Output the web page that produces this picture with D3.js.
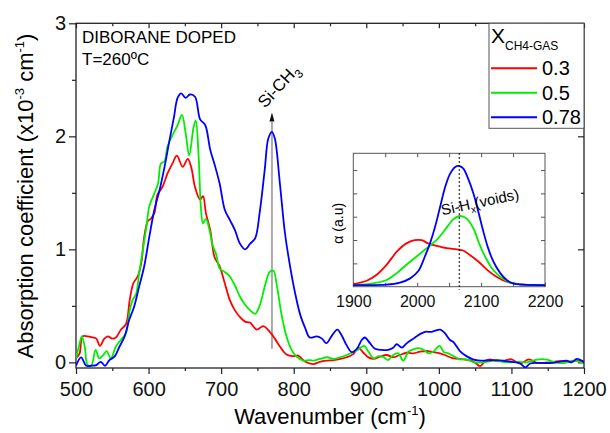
<!DOCTYPE html>
<html>
<head>
<meta charset="utf-8">
<script src="https://cdn.jsdelivr.net/npm/d3@7"></script>
<style>
  body { margin: 0; background: #fff; }
  text { font-family: "Liberation Sans", Arial, sans-serif; }
</style>
</head>
<body>
<div id="chart-area"></div>
<script>
// FTIR spectra, diborane doped, T=260C ; [wavenumber, alpha x10^-3]
var series = ["0.3", "0.5", "0.78"];
var colors = ["#ff0000", "#00ee00", "#0000ff"];

var red = [[500,0.035],[505,0.08],[509,0.23],[516,0.23],[523,0.22],[528,0.21],[533,0.145],[539,0.21],[544,0.23],[550,0.21],[555,0.22],[562,0.29],[569,0.34],[574,0.55],[579,0.70],[585,0.76],[590,0.88],[594,1.11],[599,1.25],[603,1.27],[608,1.32],[612,1.48],[619,1.55],[626,1.67],[633,1.76],[639,1.83],[647,1.73],[654,1.80],[659,1.72],[664,1.55],[671,1.44],[675,1.47],[679,1.32],[685,1.17],[691,0.93],[698,0.85],[705,0.70],[712,0.55],[719,0.46],[726,0.40],[733,0.36],[740,0.35],[749,0.29],[758,0.32],[767,0.27],[774,0.21],[781,0.14],[790,0.07],[799,0.055],[806,0.06],[816,0.005],[827,-0.015],[836,0.005],[845,0.015],[855,0.02],[864,0.03],[873,0.045],[882,0.073],[889,0.13],[896,0.085],[903,0.044],[910,0.03],[919,0.05],[928,0.065],[937,0.045],[946,0.065],[956,0.085],[965,0.08],[974,0.094],[985,0.10],[997,0.085],[1008,0.065],[1020,0.035],[1034,0.027],[1047,0.01],[1057,-0.033],[1064,0.015],[1070,0.027],[1080,0.01],[1089,0.015],[1100,0.027],[1112,-0.01],[1124,0.027],[1135,-0.005],[1144,-0.005],[1153,0.0],[1165,0.01],[1180,0.005],[1190,0.015],[1200,0.005]];

var green = [[500,0.035],[504,0.14],[508,0.23],[512,0.14],[516,-0.024],[521,-0.03],[527,0.11],[532,0.035],[537,0.06],[542,0.10],[548,0.035],[555,0.14],[562,0.20],[569,0.26],[574,0.46],[578,0.55],[583,0.61],[587,0.79],[592,0.99],[597,1.20],[601,1.38],[607,1.48],[613,1.58],[617,1.76],[622,1.78],[626,1.91],[633,2.01],[640,2.10],[646,2.19],[651,2.03],[656,1.83],[662,2.08],[665,2.14],[669,1.82],[672,1.38],[675,1.23],[679,1.27],[684,1.17],[688,1.04],[693,0.96],[698,0.83],[705,0.80],[712,0.76],[719,0.68],[726,0.58],[733,0.51],[740,0.46],[747,0.43],[754,0.52],[760,0.67],[767,0.80],[772,0.81],[777,0.67],[783,0.43],[790,0.23],[797,0.11],[804,0.05],[813,0.015],[822,0.02],[827,0.015],[836,0.03],[846,0.045],[855,0.03],[864,0.045],[873,0.065],[880,0.085],[889,0.115],[897,0.145],[903,0.094],[910,0.035],[917,0.055],[924,0.045],[930,0.02],[937,0.065],[944,0.08],[951,0.015],[958,0.094],[965,0.115],[972,0.125],[979,0.11],[986,0.08],[992,0.094],[1001,0.145],[1007,0.09],[1013,0.08],[1020,0.055],[1029,0.027],[1038,0.027],[1048,0.0],[1061,0.0],[1077,0.015],[1094,0.0],[1110,0.005],[1121,0.0],[1135,0.025],[1149,0.025],[1160,0.0],[1174,-0.005],[1185,0.015],[1199,-0.005]];

var blue = [[500,-0.03],[507,0.044],[514,-0.03],[521,-0.03],[528,-0.025],[534,0.005],[540,-0.03],[546,0.02],[553,0.05],[560,0.14],[567,0.23],[573,0.37],[580,0.49],[587,0.67],[594,0.85],[601,1.11],[608,1.35],[615,1.52],[622,1.73],[629,1.97],[635,2.17],[640,2.34],[645,2.38],[651,2.34],[657,2.37],[664,2.35],[671,2.15],[678,2.10],[685,1.88],[691,1.75],[698,1.58],[705,1.35],[712,1.26],[719,1.17],[726,1.05],[733,1.00],[740,1.05],[747,1.10],[753,1.32],[760,1.70],[765,1.98],[770,2.04],[774,1.98],[781,1.58],[788,1.14],[795,0.85],[802,0.61],[809,0.42],[816,0.30],[822,0.22],[832,0.23],[839,0.21],[845,0.17],[852,0.23],[860,0.29],[866,0.24],[873,0.15],[880,0.09],[887,0.12],[894,0.20],[898,0.22],[905,0.17],[912,0.12],[921,0.11],[930,0.11],[937,0.13],[942,0.16],[949,0.13],[956,0.17],[965,0.21],[974,0.25],[981,0.27],[990,0.27],[1002,0.29],[1008,0.26],[1015,0.20],[1020,0.18],[1029,0.10],[1038,0.055],[1047,0.027],[1057,0.015],[1080,0.02],[1093,0.01],[1112,-0.01],[1119,-0.045],[1126,-0.01],[1139,-0.005],[1158,-0.005],[1176,0.015],[1183,0.0],[1190,0.03],[1197,0.015],[1200,0.0]];

// inset: Si-Hx stretching band, normalised absorption (a.u.)
var insetRed = [[1900,0.008],[1921,0.036],[1936,0.084],[1952,0.17],[1968,0.28],[1983,0.35],[1996,0.377],[2007,0.377],[2017,0.35],[2030,0.33],[2046,0.31],[2062,0.30],[2072,0.29],[2083,0.25],[2096,0.196],[2109,0.13],[2124,0.07],[2140,0.028],[2161,0.006],[2200,0.0]];
var insetGreen = [[1900,0.0],[1931,0.014],[1952,0.042],[1968,0.10],[1983,0.17],[1999,0.24],[2015,0.31],[2030,0.377],[2043,0.46],[2056,0.55],[2067,0.58],[2077,0.56],[2088,0.475],[2098,0.335],[2109,0.21],[2119,0.126],[2130,0.07],[2145,0.022],[2166,0.003],[2200,0.0]];
var insetBlue = [[1900,0.0],[1952,0.003],[1973,0.02],[1989,0.056],[2002,0.12],[2012,0.24],[2020,0.35],[2028,0.49],[2036,0.66],[2043,0.81],[2051,0.93],[2059,0.99],[2066,1.0],[2072,0.98],[2080,0.89],[2088,0.77],[2096,0.61],[2103,0.46],[2111,0.31],[2119,0.20],[2130,0.10],[2140,0.042],[2150,0.014],[2166,0.003],[2200,0.0]];

var xTicks = [500, 600, 700, 800, 900, 1000, 1100, 1200];
var yTicks = [0, 1, 2, 3];
var insetTicks = [1900, 2000, 2100, 2200];

var siCH3 = 770, siHx = 2066;

var W = 610, H = 433;
var margin = {top: 23.3, left: 76, right: 26, bottom: 65};
var width = W - margin.left - margin.right;
var height = H - margin.top - margin.bottom;

var svg = d3.select("#chart-area").append("svg").attr("width", W).attr("height", H);
var g = svg.append("g").attr("transform", "translate(" + margin.left + "," + margin.top + ")");

var x = d3.scaleLinear().domain([500, 1200]).range([0, width]);
var y = d3.scaleLinear().domain([-0.05, 3]).range([height, 0]);

svg.append("defs").append("clipPath").attr("id", "clip")
    .append("rect").attr("width", width).attr("height", height);

// axes: outward on bottom/left, inward on top/right
function styleAxis(sel) {
    sel.select(".domain").remove();
    sel.selectAll("line").attr("stroke", "#222").attr("stroke-width", 1.2);
    sel.selectAll("text").attr("font-size", "20px").attr("fill", "#111");
}
g.append("g").attr("transform", "translate(0," + height + ")")
    .call(d3.axisBottom(x).tickValues(xTicks).tickSize(6).tickPadding(8).tickFormat(d3.format("d")))
    .call(styleAxis);
g.append("g").attr("transform", "translate(0," + height + ")")
    .call(d3.axisBottom(x).tickValues(d3.range(550, 1200, 100)).tickSize(3).tickFormat(""))
    .call(styleAxis);
g.append("g")
    .call(d3.axisTop(x).tickValues(xTicks).tickSize(-5).tickFormat(""))
    .call(styleAxis);
g.append("g")
    .call(d3.axisTop(x).tickValues(d3.range(550, 1200, 100)).tickSize(-3).tickFormat(""))
    .call(styleAxis);
g.append("g")
    .call(d3.axisLeft(y).tickValues(yTicks).tickSize(7).tickPadding(3).tickFormat(d3.format("d")))
    .call(styleAxis);
g.append("g")
    .call(d3.axisLeft(y).tickValues([0.5, 1.5, 2.5]).tickSize(4).tickFormat(""))
    .call(styleAxis);
g.append("g").attr("transform", "translate(" + width + ",0)")
    .call(d3.axisRight(y).tickValues(yTicks).tickSize(-6).tickFormat(""))
    .call(styleAxis);
g.append("g").attr("transform", "translate(" + width + ",0)")
    .call(d3.axisRight(y).tickValues([0.5, 1.5, 2.5]).tickSize(-3).tickFormat(""))
    .call(styleAxis);

g.append("rect").attr("width", width).attr("height", height)
    .attr("fill", "none").attr("stroke", "#222").attr("stroke-width", 1.3);

// Si-CH3 marker
g.append("line")
    .attr("x1", x(siCH3)).attr("x2", x(siCH3))
    .attr("y1", y(0.12)).attr("y2", y(2.13))
    .attr("stroke", "#aaa").attr("stroke-width", 2);
g.append("path")
    .attr("d", "M" + (x(siCH3) - 2.5) + "," + y(2.13) + "L" + x(siCH3) + "," + y(2.21) + "L" + (x(siCH3) + 2.5) + "," + y(2.13) + "Z")
    .attr("fill", "#111");

var line = d3.line()
    .x(function(d) { return x(d[0]); })
    .y(function(d) { return y(d[1]); })
    .curve(d3.curveCatmullRom.alpha(0.5));

var curves = g.append("g").attr("clip-path", "url(#clip)");
[red, green, blue].forEach(function(data, i) {
    curves.append("path").datum(data)
        .attr("d", line)
        .attr("fill", "none")
        .attr("stroke", colors[i])
        .attr("stroke-width", 1.8);
});

var lab = g.append("text")
    .attr("transform", "translate(" + (x(siCH3) - 7) + "," + (y(2.2) - 5) + ") rotate(-47)")
    .attr("font-size", "17px");
lab.append("tspan").text("Si-CH");
lab.append("tspan").attr("font-size", "12px").attr("dy", 5).text("3");

// labels top-left
g.append("text").attr("x", 6).attr("y", 20).attr("font-size", "17px").text("DIBORANE DOPED");
g.append("text").attr("x", 6).attr("y", 42).attr("font-size", "17px").text("T=260\u00baC");

// axis titles
var xt = svg.append("text").attr("x", 330).attr("y", 424)
    .attr("text-anchor", "middle").attr("font-size", "22px");
xt.append("tspan").text("Wavenumber (cm");
xt.append("tspan").attr("font-size", "13px").attr("dy", -9).text("-1");
xt.append("tspan").attr("dy", 9).text(")");

var yt = svg.append("text")
    .attr("transform", "translate(33," + 196 + ") rotate(-90)")
    .attr("text-anchor", "middle").attr("font-size", "22px");
yt.append("tspan").text("Absorption coefficient (x10");
yt.append("tspan").attr("font-size", "13px").attr("dy", -9).text("-3");
yt.append("tspan").attr("dy", 9).text(" cm");
yt.append("tspan").attr("font-size", "13px").attr("dy", -9).text("-1");
yt.append("tspan").attr("dy", 9).text(")");

// legend
var lg = svg.append("g").attr("transform", "translate(489,23.3)");
lg.append("rect").attr("width", 95).attr("height", 105)
    .attr("fill", "#fff").attr("stroke", "#555").attr("stroke-width", 1);
var lt = lg.append("text").attr("x", 2).attr("y", 20).attr("font-size", "21px");
lt.append("tspan").text("X");
lt.append("tspan").attr("font-size", "12px").attr("dy", 7).text("CH4-GAS");
series.forEach(function(s, i) {
    var yy = 45 + i * 24.5;
    lg.append("line").attr("x1", 2).attr("x2", 48).attr("y1", yy).attr("y2", yy)
        .attr("stroke", colors[i]).attr("stroke-width", 2);
    lg.append("text").attr("x", 53).attr("y", yy + 7).attr("font-size", "20px").text(s);
});

// inset
var ix0 = 353.3, iy0 = 153.3, iw = 191.7, ih = 133.4;
var inset = svg.append("g").attr("transform", "translate(" + ix0 + "," + iy0 + ")");
var xi = d3.scaleLinear().domain([1900, 2200]).range([0, iw]);
var yi = d3.scaleLinear().domain([-0.014, 1.107]).range([ih, 0]);

inset.append("rect").attr("width", iw).attr("height", ih).attr("fill", "#fff");

function styleInset(sel) {
    sel.select(".domain").remove();
    sel.selectAll("line").attr("stroke", "#555").attr("stroke-width", 1);
    sel.selectAll("text").attr("font-size", "16px").attr("fill", "#111");
}
var yiTicks = d3.range(1, 6).map(function(k) { return -0.014 + k * 0.196; });
inset.append("g").attr("transform", "translate(0," + ih + ")")
    .call(d3.axisBottom(xi).tickValues(d3.range(1900, 2201, 50)).tickSize(-4).tickFormat(""))
    .call(styleInset);
inset.append("g").attr("transform", "translate(0," + ih + ")")
    .call(d3.axisBottom(xi).tickValues(insetTicks).tickSize(0).tickPadding(9).tickFormat(d3.format("d")))
    .call(styleInset);
inset.append("g")
    .call(d3.axisTop(xi).tickValues(d3.range(1950, 2200, 50)).tickSize(-4).tickFormat(""))
    .call(styleInset);
inset.append("g")
    .call(d3.axisLeft(yi).tickValues(yiTicks).tickSize(-4).tickFormat(""))
    .call(styleInset);
inset.append("g").attr("transform", "translate(" + iw + ",0)")
    .call(d3.axisRight(yi).tickValues(yiTicks).tickSize(-4).tickFormat(""))
    .call(styleInset);
inset.append("rect").attr("width", iw).attr("height", ih)
    .attr("fill", "none").attr("stroke", "#555").attr("stroke-width", 1);

var iline = d3.line()
    .x(function(d) { return xi(d[0]); })
    .y(function(d) { return yi(d[1]); })
    .curve(d3.curveCatmullRom.alpha(0.5));

[insetRed, insetGreen, insetBlue].forEach(function(data, i) {
    inset.append("path").datum(data)
        .attr("d", iline)
        .attr("fill", "none")
        .attr("stroke", colors[i])
        .attr("stroke-width", 1.8);
});

inset.append("line")
    .attr("x1", xi(siHx)).attr("x2", xi(siHx))
    .attr("y1", 0).attr("y2", ih + 3)
    .attr("stroke", "#111").attr("stroke-width", 1.4)
    .attr("stroke-dasharray", "1.5,2.5");

var it = inset.append("text")
    .attr("transform", "translate(" + (xi(siHx) - 17) + "," + 62 + ") rotate(-12)")
    .attr("font-size", "15px");
it.append("tspan").text("Si-H");
it.append("tspan").attr("font-size", "10px").attr("dy", 4).text("x");
it.append("tspan").attr("dy", -4).text("(voids)");

svg.append("text")
    .attr("transform", "translate(" + (ix0 - 10) + "," + (iy0 + 70) + ") rotate(-90)")
    .attr("text-anchor", "middle").attr("font-size", "14px")
    .text("\u03b1 (a.u)");
</script>
</body>
</html>
